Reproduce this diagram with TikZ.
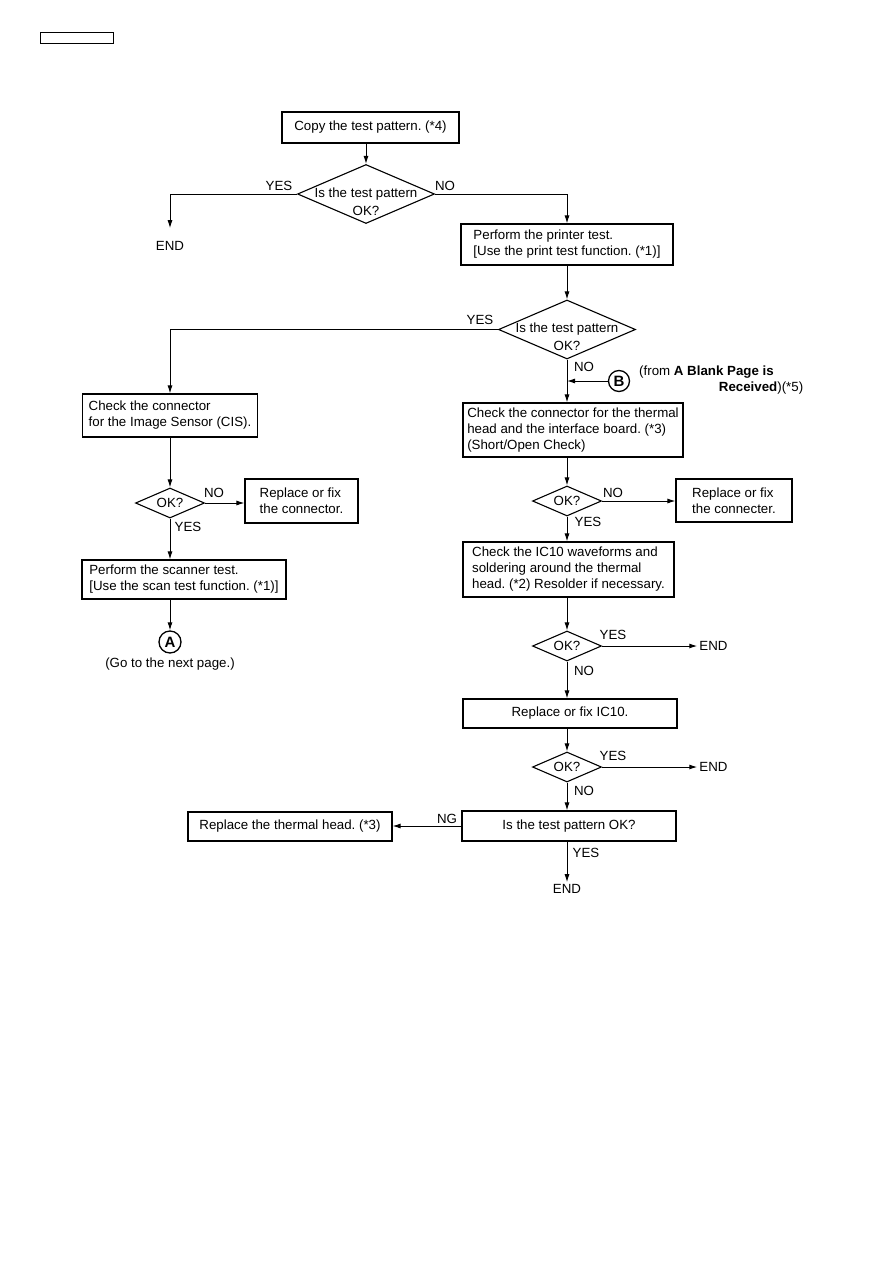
\documentclass[tikz,border=0pt]{standalone}
\usepackage{fontspec}
\setmainfont{Liberation Sans}
\usetikzlibrary{shapes.geometric,arrows.meta}
\frenchspacing

\begin{document}
\begin{tikzpicture}[x=1pt,y=-1pt,
  every node/.style={font=\fontsize{13.3}{16}\selectfont},
  box/.style={draw,line width=1.1pt,inner ysep=0pt,align=left},
  dec/.style={draw,diamond,line width=1.1pt,inner sep=0pt},
  lbl/.style={inner sep=0pt},
  fin/.style={inner sep=2pt},
  ring/.style={draw,circle,line width=1.3pt,minimum size=21pt,inner sep=0pt,font=\fontsize{15}{15}\selectfont\bfseries},
  arr/.style={line width=1pt,-{Latex[length=8pt,width=5pt]}}]
  \useasboundingbox (0,0) rectangle (893,1263);
  \node[draw,line width=0.8pt,minimum width=73,minimum height=11,inner sep=0pt] (hdr) at (76.5,37.5) {};
  % top of the chart
  \node[box,minimum width=177,minimum height=31] (copy) at (370.5,127.5) {Copy the test pattern. (*4)};
  \node[dec,minimum width=137,minimum height=59,label={[align=center,yshift=-8pt]center:{Is the test pattern\\[2pt]OK?}}] (q1) at (366,194) {};
  \node[lbl] (yes1) at (279,186) {YES};
  \node[lbl] (no1) at (445,186) {NO};
  \node[fin] (end1) at (170,246) {END};
  \node[box,minimum width=212,minimum height=41,xshift=-3pt,inner xsep=0pt] (printer) at (570,244.5) {Perform the printer test.\\{[}Use the print test function. (*1)]};
  \node[dec,minimum width=137,minimum height=59,label={[align=center,yshift=-7pt]center:{Is the test pattern\\[2pt]OK?}}] (q2) at (567,329.5) {};
  \node[lbl] (yes2) at (480,320) {YES};
  \node[lbl] (no2) at (584,367) {NO};
  \node[ring] (B) at (619,381) {B};
  \node[align=left,inner sep=0pt,anchor=west] (bnote) at (639,380.5) {(from \textbf{A Blank Page is}\\\makebox[164pt][r]{\textbf{Received})(*5)}};
  % scanner side
  \node[box,minimum width=175,minimum height=43] (cis) at (170,415.5) {Check the connector\\for the Image Sensor (CIS).};
  \node[dec,minimum width=69,minimum height=30,label=center:OK?] (qL) at (170,503) {};
  \node[lbl] (noL) at (214,493) {NO};
  \node[lbl] (yesL) at (188,527) {YES};
  \node[box,minimum width=113,minimum height=44] (fixL) at (301.5,501) {Replace or fix\\the connector.};
  \node[box,minimum width=204,minimum height=39] (scan) at (184,579.5) {Perform the scanner test.\\{[}Use the scan test function. (*1)]};
  \node[ring,minimum size=22pt] (A) at (170,642) {A};
  \node (goA) at (170,664) {(Go to the next page.)};
  % printer side
  \node[box,minimum width=220,minimum height=54] (thermal) at (573,430) {Check the connector for the thermal\\head and the interface board. (*3)\\(Short/Open Check)};
  \node[dec,minimum width=69,minimum height=30,label=center:OK?] (q3) at (567,501) {};
  \node[lbl] (no3) at (613,493) {NO};
  \node[lbl] (yes3) at (588,522) {YES};
  \node[box,minimum width=116,minimum height=43] (fixR) at (734,500.5) {Replace or fix\\the connecter.};
  \node[box,minimum width=211,minimum height=55] (ic10) at (568.5,569.5) {Check the IC10 waveforms and\\soldering around the thermal\\head. (*2) Resolder if necessary.};
  \node[dec,minimum width=69,minimum height=30,label=center:OK?] (q4) at (567,646) {};
  \node[lbl] (yes4) at (613,635) {YES};
  \node[lbl] (no4) at (584,671) {NO};
  \node[fin] (end2) at (713.5,646) {END};
  \node[box,minimum width=214,minimum height=29] (fixic) at (570,713.5) {Replace or fix IC10.};
  \node[dec,minimum width=69,minimum height=30,label=center:OK?] (q5) at (567,767) {};
  \node[lbl] (yes5) at (613,756) {YES};
  \node[lbl] (no5) at (584,791) {NO};
  \node[fin] (end3) at (713.5,767) {END};
  \node[box,minimum width=214,minimum height=30] (final) at (569,826) {Is the test pattern OK?};
  \node[lbl] (ng) at (447,819) {NG};
  \node[box,minimum width=204,minimum height=29] (head) at (290,826.5) {Replace the thermal head. (*3)};
  \node[lbl] (yes6) at (586,853) {YES};
  \node[fin] (end4) at (567,889) {END};
  % connectors
  \draw[arr] (copy.south -| q1.north) -- (q1.north);
  \draw[arr,shorten >=11pt] (q1.west) -| (end1.north);
  \draw[arr] (q1.east) -| (q2.north |- printer.north);
  \draw[arr] (printer.south -| q2.north) -- (q2.north);
  \draw[arr] (q2.west) -| (cis.north);
  \draw[arr] (cis.south -| qL.north) -- (qL.north);
  \draw[arr] (qL.east) -- (qL.east -| fixL.west);
  \draw[arr] (qL.south) -- (qL.south |- scan.north);
  \draw[arr] (scan.south -| A.north) -- (A.north);
  \draw[arr] (q2.south) -- (q2.south |- thermal.north);
  \draw[arr] (B.west) -- (B.west -| q2.south);
  \draw[arr] (thermal.south -| q3.north) -- (q3.north);
  \draw[arr] (q3.east) -- (q3.east -| fixR.west);
  \draw[arr] (q3.south) -- (q3.south |- ic10.north);
  \draw[arr] (ic10.south -| q4.north) -- (q4.north);
  \draw[arr] (q4.east) -- (end2.west);
  \draw[arr] (q4.south) -- (q4.south |- fixic.north);
  \draw[arr] (fixic.south -| q5.north) -- (q5.north);
  \draw[arr] (q5.east) -- (end3.west);
  \draw[arr] (q5.south) -- (q5.south |- final.north);
  \draw[arr] (final.west) -- (final.west -| head.east);
  \draw[arr] (final.south -| end4.north) -- (end4.north);
\end{tikzpicture}
\end{document}
